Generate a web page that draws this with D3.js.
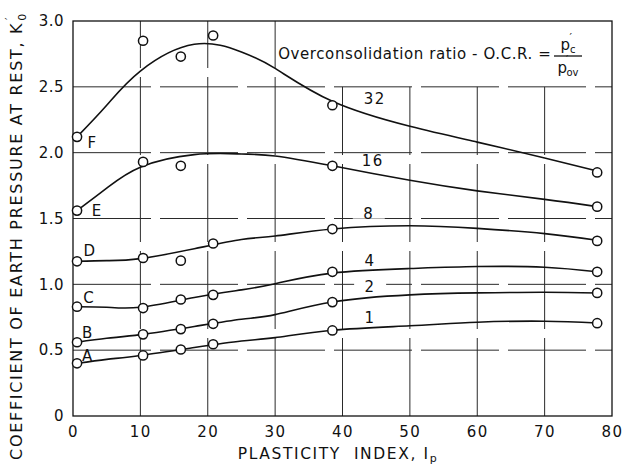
<!DOCTYPE html>
<html>
<head>
<meta charset="utf-8">
<script src="https://cdn.jsdelivr.net/npm/d3@7"></script>
<style>
  html, body { margin: 0; padding: 0; background: #fff; }
  svg { display: block; }
  text { font-family: "DejaVu Sans", "Liberation Sans", sans-serif; fill: #111; }
</style>
</head>
<body>
<svg id="chart" width="630" height="468"></svg>
<script>
// ---------- data ----------
const xTicks = [0, 10, 20, 30, 40, 50, 60, 70, 80];
const yTicks = [0, 0.5, 1.0, 1.5, 2.0, 2.5, 3.0];
const yTickLabels = ["0", "0.5", "1.0", "1.5", "2.0", "2.5", "3.0"];

const seriesNames = ["F", "E", "D", "C", "B", "A"];
const ocrLabels = ["32", "16", "8", "4", "2", "1"];

// measured points (plasticity index Ip)
const pointIp = [0.6, 10.4, 16, 20.8, 38.5, 77.8];
const ptsF = [2.12, 2.85, 2.73, 2.89, 2.36, 1.85];
const ptsE = [1.56, 1.93, 1.90, null, 1.90, 1.59];
const ptsD = [1.175, 1.20, 1.18, 1.31, 1.42, 1.33];
const ptsC = [0.83, 0.82, 0.885, 0.92, 1.095, 1.095];
const ptsB = [0.56, 0.62, 0.66, 0.70, 0.865, 0.935];
const ptsA = [0.40, 0.46, 0.505, 0.545, 0.65, 0.705];

// fitted curves
const curveIp = [0.6, 5, 10, 18, 25, 30, 38.5, 50, 60, 70, 77.8];
const crvF = [2.12, 2.36, 2.62, 2.823, 2.765, 2.64, 2.39, 2.20, 2.08, 1.96, 1.86];
const crvE = [1.56, 1.73, 1.89, 1.985, 1.99, 1.975, 1.90, 1.79, 1.71, 1.645, 1.59];
const crvD = [1.175, 1.18, 1.195, 1.27, 1.34, 1.367, 1.42, 1.445, 1.425, 1.385, 1.335];
const crvC = [0.83, 0.826, 0.826, 0.90, 0.958, 1.005, 1.085, 1.12, 1.135, 1.13, 1.095];
const crvB = [0.56, 0.59, 0.618, 0.68, 0.735, 0.77, 0.866, 0.92, 0.935, 0.94, 0.934];
const crvA = [0.40, 0.43, 0.46, 0.52, 0.57, 0.595, 0.651, 0.685, 0.712, 0.72, 0.706];

// label anchors (Ip, K) for the letter and the O.C.R. number of each series
const letterIp = [2.8, 3.5, 2.4, 2.3, 2.1, 2.1];
const letterK = [2.08, 1.557, 1.26, 0.896, 0.63, 0.46];
const ocrIp = [44.8, 44.5, 43.9, 44.1, 44.1, 44.1];
const ocrK = [2.41, 1.94, 1.537, 1.18, 0.985, 0.747];

const allPts = [ptsF, ptsE, ptsD, ptsC, ptsB, ptsA];
const allCrv = [crvF, crvE, crvD, crvC, crvB, crvA];

// ---------- layout ----------
const svg = d3.select("#chart");
const L = 73, R = 612, T = 21, B = 416;
const x = d3.scaleLinear().domain([0, 80]).range([L, R]);
const y = d3.scaleLinear().domain([0, 3]).range([B, T]);

const gridColor = "#2a2a2a";

// grid: vertical lines (40..70 stop at legend box, K=2.5)
const grid = svg.append("g").attr("stroke", gridColor).attr("stroke-width", 1)
  .attr("stroke-dasharray", "78,9").attr("fill", "none");
xTicks.filter(t => t > 0 && t < 80).forEach(t => {
  grid.append("line")
    .attr("x1", x(t)).attr("x2", x(t))
    .attr("y1", y(0)).attr("y2", t >= 40 ? y(2.5) : y(3));
});
yTicks.filter(t => t > 0 && t < 3).forEach(t => {
  grid.append("line")
    .attr("x1", x(0)).attr("x2", x(80))
    .attr("y1", y(t)).attr("y2", y(t));
});

// frame
svg.append("rect")
  .attr("x", x(0)).attr("y", y(3))
  .attr("width", x(80) - x(0)).attr("height", y(0) - y(3))
  .attr("fill", "none").attr("stroke", "#111").attr("stroke-width", 1.3);

// axes (labels only, no tick marks)
const fs = 15;
const xAxis = d3.axisBottom(x).tickValues(xTicks).tickSize(0).tickPadding(10);
svg.append("g").attr("transform", `translate(0,${B})`).call(xAxis)
  .call(g => g.select(".domain").remove())
  .call(g => g.selectAll("text").attr("font-size", fs).attr("letter-spacing", 1.5)
    .attr("font-family", "DejaVu Sans, sans-serif").attr("fill", "#111"));

const yAxis = d3.axisLeft(y).tickValues(yTicks).tickSize(0).tickPadding(9)
  .tickFormat((d, i) => yTickLabels[i]);
svg.append("g").attr("transform", `translate(${L},0)`).call(yAxis)
  .call(g => g.select(".domain").remove())
  .call(g => g.selectAll("text").attr("font-size", fs).attr("letter-spacing", 0.5)
    .attr("font-family", "DejaVu Sans, sans-serif").attr("fill", "#111"));

// axis titles
const xt = svg.append("text").attr("x", 338).attr("y", 459)
  .attr("text-anchor", "middle").attr("font-size", 15.5).attr("letter-spacing", 1.6)
  .style("white-space", "pre");
xt.append("tspan").text("PLASTICITY  INDEX, I");
xt.append("tspan").attr("font-size", 11).attr("dy", 3).text("p");

const yt = svg.append("text")
  .attr("transform", `translate(22,${236}) rotate(-90)`)
  .attr("text-anchor", "middle").attr("font-size", 16).attr("letter-spacing", 1.7);
yt.append("tspan").text("COEFFICIENT OF EARTH PRESSURE AT REST, K");
yt.append("tspan").attr("font-size", 11).attr("dy", 4).attr("dx", 1).text("0");
yt.append("tspan").attr("font-size", 11).attr("dy", -13).attr("dx", -8).text("′");

// legend box text
svg.append("text").attr("x", x(30) + 3).attr("y", 59)
  .attr("font-size", 15).attr("letter-spacing", 0.6)
  .text("Overconsolidation ratio - O.C.R. =");
const fx = 568;
const num = svg.append("text").attr("x", fx).attr("y", 50).attr("text-anchor", "middle").attr("font-size", 15);
num.append("tspan").text("p");
num.append("tspan").attr("font-size", 10).attr("dy", 3).text("c");
num.append("tspan").attr("font-size", 11).attr("dy", -12).attr("dx", -6).text("′");
svg.append("line").attr("x1", fx - 14).attr("x2", fx + 14).attr("y1", 56).attr("y2", 56)
  .attr("stroke", "#111").attr("stroke-width", 1.3);
const den = svg.append("text").attr("x", fx).attr("y", 73).attr("text-anchor", "middle").attr("font-size", 15);
den.append("tspan").text("p");
den.append("tspan").attr("font-size", 10).attr("dy", -10).attr("dx", -1).text("′");
den.append("tspan").attr("font-size", 10).attr("dy", 13).attr("dx", -2).text("ov");

// curves
const line = d3.line().x(d => x(d[0])).y(d => y(d[1])).curve(d3.curveNatural);
const curvesG = svg.append("g");
allCrv.forEach(vals => {
  curvesG.append("path")
    .datum(curveIp.map((ip, i) => [ip, vals[i]]))
    .attr("d", line)
    .attr("fill", "none").attr("stroke", "#111").attr("stroke-width", 1.6);
});

// OCR number labels (with white gaps where grid lines run through)
const gapFor = ["8", "2"];
ocrLabels.forEach((lab, i) => {
  if (gapFor.includes(lab)) {
    svg.append("rect").attr("x", x(ocrIp[i]) - 16).attr("y", y(ocrK[i]) - 5)
      .attr("width", 32).attr("height", 10).attr("fill", "#fff");
  }
  svg.append("text").attr("x", x(ocrIp[i])).attr("y", y(ocrK[i]))
    .attr("dy", "0.36em").attr("text-anchor", "middle")
    .attr("font-size", 15).attr("letter-spacing", 1.5).text(lab);
});

// letters
seriesNames.forEach((lab, i) => {
  svg.append("text").attr("x", x(letterIp[i])).attr("y", y(letterK[i]))
    .attr("dy", "0.36em").attr("text-anchor", "middle")
    .attr("font-size", 15).text(lab);
});

// points
const ptsG = svg.append("g");
allPts.forEach(vals => {
  vals.forEach((v, i) => {
    if (v == null) return;
    ptsG.append("circle").attr("cx", x(pointIp[i])).attr("cy", y(v)).attr("r", 4.6)
      .attr("fill", "#fff").attr("stroke", "#111").attr("stroke-width", 1.5);
  });
});
</script>
</body>
</html>
